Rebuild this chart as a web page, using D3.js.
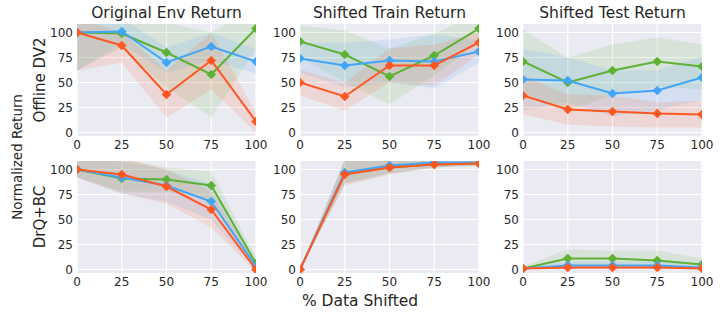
<!DOCTYPE html>
<html>
<head>
<meta charset="utf-8">
<script src="https://cdn.jsdelivr.net/npm/d3@7"></script>
<style>
  body { margin: 0; background: #fff; }
  text { font-family: "DejaVu Sans", sans-serif; fill: #262626; }
</style>
</head>
<body>
<div id="chart"></div>
<script>
var xValues = [0, 25, 50, 75, 100];
var xTicks = [0, 25, 50, 75, 100];
var yTicks = [0, 25, 50, 75, 100];
var colTitles = ['Original Env Return', 'Shifted Train Return', 'Shifted Test Return'];
var rowTitles = ['Offline DV2', 'DrQ+BC'];
var seriesNames = ['green', 'blue', 'red'];
var seriesColors = ['#5db135', '#42a5f5', '#ff5722'];

// [row][col][series] mean values, series order: green, blue, red
var means = [
  [
    [[100, 99, 80, 58, 104], [100, 101, 70, 86, 71], [100, 87, 38, 72, 11]],
    [[91, 78, 56, 77, 104], [74, 67, 72, 71, 81], [50, 36, 67, 67, 90]],
    [[71, 50, 62, 71, 66], [53, 52, 39, 42, 55], [37, 23, 21, 19, 18]]
  ],
  [
    [[100, 91, 90, 84, 6], [100, 92, 84, 68, 3], [100, 95, 83, 60, 0]],
    [[0, 96, 102, 105, 106], [0, 97, 104, 107, 107], [0, 95, 102, 105, 106]],
    [[1, 11, 11, 9, 5], [1, 4, 4, 4, 2], [1, 2, 2, 2, 1]]
  ]
];
var lows = [
  [
    [[62, 85, 45, 15, 83], [62, 88, 60, 72, 59], [62, 70, 15, 43, 0]],
    [[75, 50, 28, 57, 90], [60, 45, 50, 44, 70], [37, 22, 50, 47, 78]],
    [[40, 22, 37, 46, 43], [22, 30, 16, 22, 33], [18, 8, 6, 5, 5]]
  ],
  [
    [[92, 78, 78, 70, 0], [92, 76, 68, 50, 0], [92, 76, 66, 42, -2]],
    [[0, 86, 96, 102, 104], [0, 86, 96, 102, 104], [0, 84, 95, 102, 104]],
    [[0, 3, 3, 2, 1], [0, 0, 0, 0, 0], [0, 0, 0, 0, 0]]
  ]
];
var highs = [
  [
    [[115, 113, 110, 100, 125], [115, 115, 85, 100, 83], [115, 100, 62, 100, 20]],
    [[107, 102, 84, 99, 120], [90, 90, 93, 98, 92], [63, 50, 84, 88, 100]],
    [[103, 75, 88, 95, 88], [84, 75, 62, 62, 76], [57, 38, 37, 30, 32]]
  ],
  [
    [[110, 110, 102, 98, 12], [110, 108, 100, 85, 8], [110, 112, 100, 78, 5]],
    [[0, 110, 110, 110, 110], [0, 110, 110, 110, 110], [0, 110, 110, 110, 110]],
    [[3, 20, 19, 19, 11], [2, 8, 8, 8, 5], [2, 4, 4, 4, 3]]
  ]
];

var width = 720, height = 315;
var colX = [77, 300, 523];
var rowY = [24, 161];
var pw = 179, ph = 112;

var svg = d3.select('#chart').append('svg')
  .attr('width', width)
  .attr('height', height);

var defs = svg.append('defs');

rowY.forEach(function(top, r) {
  colX.forEach(function(left, c) {
    var x = d3.scaleLinear().domain([0, 100]).range([left, left + pw]);
    var y = d3.scaleLinear().domain([-3.5, 108.5]).range([top + ph, top]);
    var clipId = 'clip-' + r + '-' + c;
    defs.append('clipPath').attr('id', clipId)
      .append('rect')
      .attr('x', left).attr('y', top).attr('width', pw).attr('height', ph);

    var g = svg.append('g');
    g.append('rect')
      .attr('x', left).attr('y', top).attr('width', pw).attr('height', ph)
      .attr('fill', '#eaeaf2');

    // grid lines
    g.selectAll('.vg').data(xTicks).enter().append('line')
      .attr('x1', function(d){ return x(d); })
      .attr('x2', function(d){ return x(d); })
      .attr('y1', top).attr('y2', top + ph)
      .attr('stroke', '#fff').attr('stroke-width', 1.2);
    g.selectAll('.hg').data(yTicks).enter().append('line')
      .attr('y1', function(d){ return y(d); })
      .attr('y2', function(d){ return y(d); })
      .attr('x1', left).attr('x2', left + pw)
      .attr('stroke', '#fff').attr('stroke-width', 1.2);

    var plot = g.append('g').attr('clip-path', 'url(#' + clipId + ')');

    var area = d3.area()
      .x(function(d){ return x(d.x); })
      .y0(function(d){ return y(d.lo); })
      .y1(function(d){ return y(d.hi); });
    var line = d3.line()
      .x(function(d){ return x(d.x); })
      .y(function(d){ return y(d.m); });

    seriesNames.forEach(function(name, s) {
      var pts = xValues.map(function(xv, i) {
        return { x: xv, m: means[r][c][s][i], lo: lows[r][c][s][i], hi: highs[r][c][s][i] };
      });
      plot.append('path').datum(pts)
        .attr('d', area)
        .attr('fill', seriesColors[s])
        .attr('fill-opacity', 0.13);
    });

    seriesNames.forEach(function(name, s) {
      var pts = xValues.map(function(xv, i) {
        return { x: xv, m: means[r][c][s][i] };
      });
      plot.append('path').datum(pts)
        .attr('d', line)
        .attr('fill', 'none')
        .attr('stroke', seriesColors[s])
        .attr('stroke-width', 2);
      plot.selectAll('.mk' + s).data(pts).enter().append('path')
        .attr('d', d3.symbol().type(d3.symbolDiamond2).size(60))
        .attr('transform', function(d){ return 'translate(' + x(d.x) + ',' + y(d.m) + ')'; })
        .attr('fill', seriesColors[s]);
    });

    // tick labels
    g.selectAll('.xt').data(xTicks).enter().append('text')
      .attr('x', function(d){ return x(d); })
      .attr('y', top + ph + 13)
      .attr('text-anchor', 'middle')
      .attr('font-size', 12)
      .text(function(d){ return d; });
    g.selectAll('.yt').data(yTicks).enter().append('text')
      .attr('x', left - 4)
      .attr('y', function(d){ return y(d) + 4; })
      .attr('text-anchor', 'end')
      .attr('font-size', 12)
      .text(function(d){ return d; });

    if (r === 0) {
      svg.append('text')
        .attr('x', left + pw / 2)
        .attr('y', top - 6)
        .attr('text-anchor', 'middle')
        .attr('font-size', 15.5)
        .text(colTitles[c]);
    }
    if (c === 0) {
      svg.append('text')
        .attr('transform', 'translate(' + 45 + ',' + (top + ph / 2) + ') rotate(-90)')
        .attr('text-anchor', 'middle')
        .attr('font-size', 15)
        .text(rowTitles[r]);
    }
  });
});

svg.append('text')
  .attr('transform', 'translate(' + 22 + ',' + 157 + ') rotate(-90)')
  .attr('text-anchor', 'middle')
  .attr('font-size', 13.5)
  .text('Normalized Return');

svg.append('text')
  .attr('x', 360)
  .attr('y', 306)
  .attr('text-anchor', 'middle')
  .attr('font-size', 15.5)
  .text('% Data Shifted');
</script>
</body>
</html>
